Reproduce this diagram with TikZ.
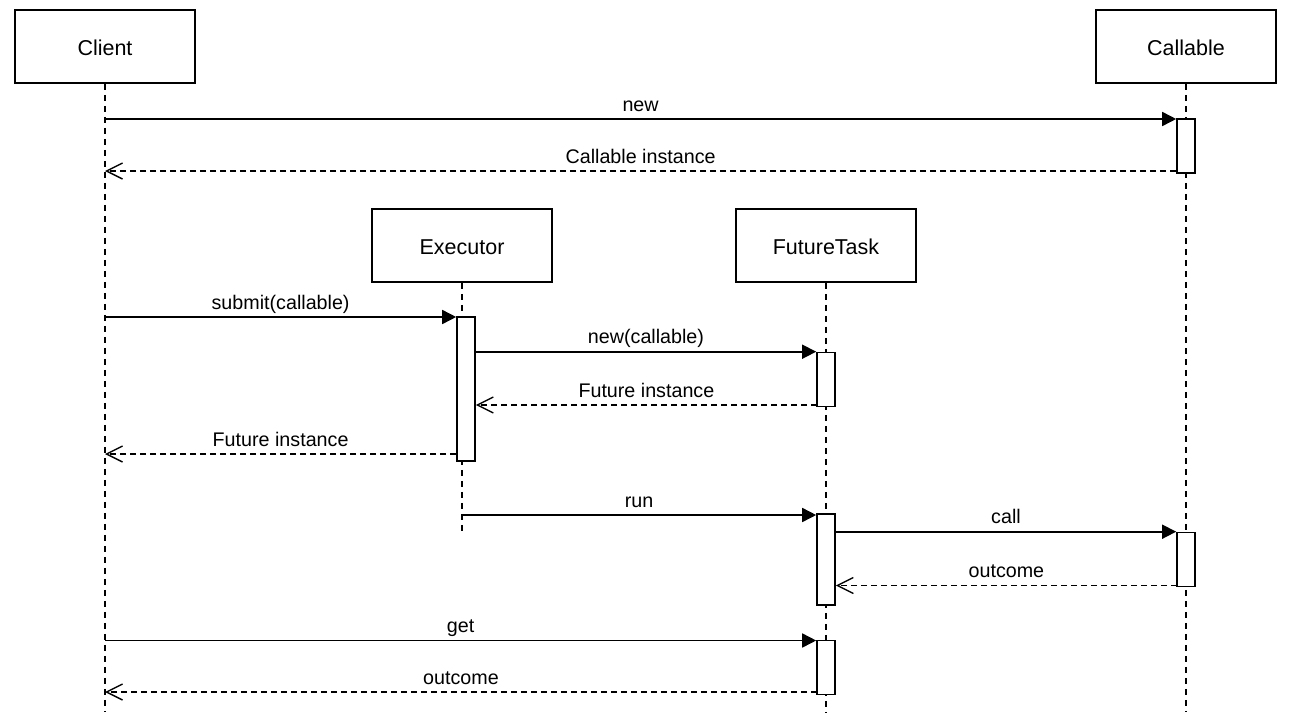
\documentclass[tikz,border=0pt]{standalone}
\usepackage{fontspec}
\setmainfont{Liberation Sans}
\usetikzlibrary{arrows.meta}
\begin{document}
\begin{tikzpicture}[x=1pt,y=-1pt,
  every node/.style={font=\fontsize{19.7}{23}\selectfont},
  actor/.style={draw,line width=1.6pt,minimum width=180pt,minimum height=73pt,inner sep=0pt,fill=white,font=\fontsize{21.5}{25}\selectfont,text depth=0pt,text height=18pt},
  actbar/.style={draw,line width=1.6pt,minimum width=18pt,inner sep=0pt,fill=white},
  lifeline/.style={line width=1.6pt,dash pattern=on 6pt off 5pt},
  call/.style={line width=1.6pt,-{Triangle[length=14pt,width=14pt]}},
  ret/.style={line width=1.4pt,dash pattern=on 6pt off 4pt,-{Straight Barb[length=16pt,width=16pt,line width=1.4pt]}},
  lbl/.style={anchor=base,yshift=8pt,inner sep=0pt}]
\useasboundingbox (0,0) rectangle (1294,728);

% actors
\node[actor] (client) at (105,46.5) {Client};
\node[actor] (callable) at (1186,46.5) {Callable};
\node[actor] (exec) at (462,245.5) {Executor};
\node[actor] (ft) at (826,245.5) {FutureTask};

% lifeline ends
\coordinate (clientEnd) at (105,712);
\coordinate (callableEnd) at (1186,712);
\coordinate (execEnd) at (462,533);
\coordinate (ftEnd) at (826,712);

\draw[lifeline] (client.south) -- (clientEnd);
\draw[lifeline] (callable.south) -- (callableEnd);
\draw[lifeline] (exec.south) -- (execEnd);
\draw[lifeline] (ft.south) -- (ftEnd);

% activation bars
\node[actbar,minimum height=54pt] (cab1) at (1186,146) {};
\node[actbar,minimum height=144pt] (ex1) at (466,389) {};
\node[actbar,minimum height=54pt] (ft1) at (826,379.5) {};
\node[actbar,minimum height=91pt] (ft2) at (826,559.5) {};
\node[actbar,minimum height=54pt] (cab2) at (1186,559.5) {};
\node[actbar,minimum height=54pt] (ft3) at (826,667.5) {};

% points on lifelines
\coordinate (cl1) at (105,119);
\coordinate (cl2) at (105,171);
\coordinate (cl3) at (105,317);
\coordinate (cl4) at (105,454);
\coordinate (cl5) at (105,640.5);
\coordinate (cl6) at (105,692);
\coordinate (exr) at (462,515);
\coordinate (r1) at (817,405);
\coordinate (r2) at (1177,585.5);
\coordinate (r3) at (817,692);

% messages
\draw[call] (cl1) -- (cab1.west |- cl1) node[lbl,midway] {new};
\draw[ret] (cab1.west |- cl2) -- (cl2) node[lbl,midway] {Callable instance};

\draw[call] (cl3) -- (ex1.west |- cl3) node[lbl,midway] {submit(callable)};
\draw[call] (ex1.east |- ft1.north) -- (ft1.north west) node[lbl,midway] {new(callable)};
\draw[ret] (r1) -- (ex1.east |- r1) node[lbl,midway] {Future instance};
\draw[ret] (ex1.west |- cl4) -- (cl4) node[lbl,midway] {Future instance};

\draw[call] (exr) -- (ft2.west |- exr) node[lbl,midway] {run};
\draw[call] (ft2.east |- cab2.north) -- (cab2.north west) node[lbl,midway] {call};
\draw[ret] (r2) -- (ft2.east |- r2) node[lbl,midway] {outcome};

\draw[call] (cl5) -- (ft3.west |- cl5) node[lbl,midway] {get};
\draw[ret] (r3) -- (cl6) node[lbl,midway] {outcome};
\end{tikzpicture}
\end{document}
